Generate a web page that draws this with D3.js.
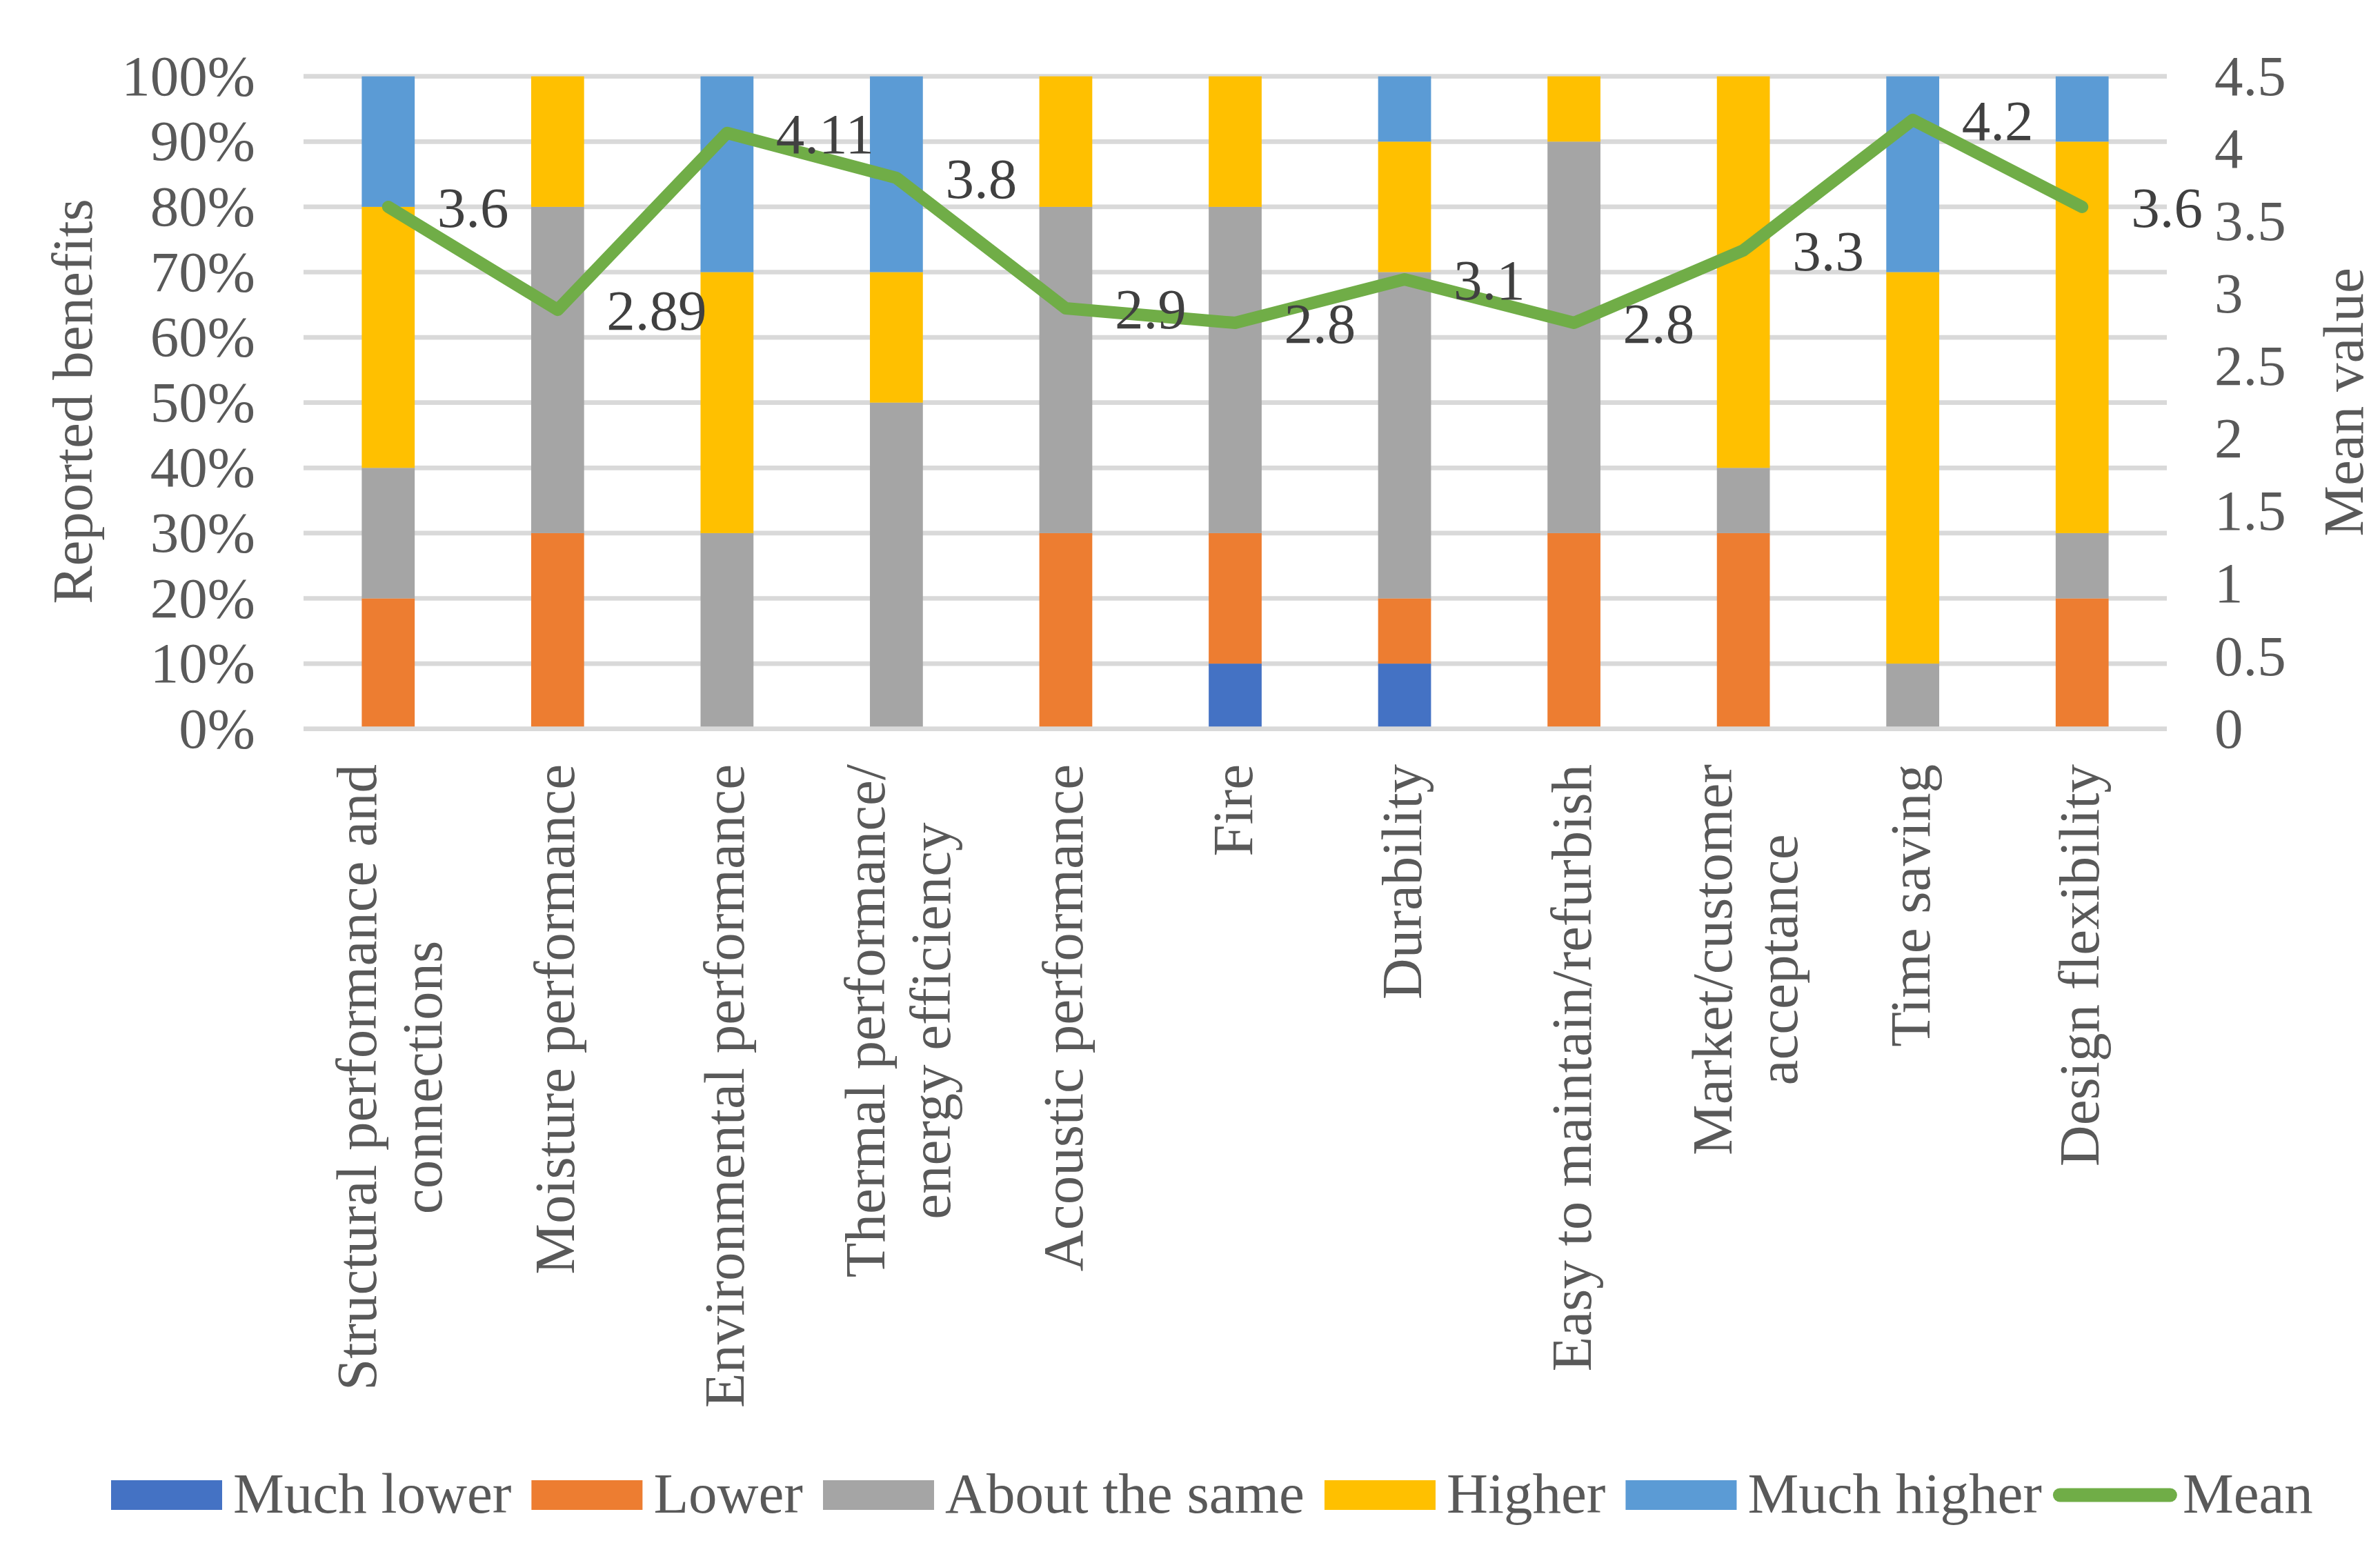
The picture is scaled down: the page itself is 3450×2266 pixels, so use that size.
<!DOCTYPE html>
<html>
<head>
<meta charset="utf-8">
<script src="https://cdn.jsdelivr.net/npm/d3@7/dist/d3.min.js"></script>
<style>
  html, body { margin: 0; padding: 0; background: #ffffff; }
  svg { display: block; }
  text { font-family: "Liberation Serif", "Times New Roman", serif; }
</style>
</head>
<body>
<svg id="chart" width="3450" height="2266"></svg>
<script>
// ---------- data ----------
const categories = [
  "Structural performance and\nconnections",
  "Moisture performance",
  "Environmental performance",
  "Thermal performance/\nenergy efficiency",
  "Acoustic performance",
  "Fire",
  "Durability",
  "Easy to maintain/refurbish",
  "Market/customer\nacceptance",
  "Time saving",
  "Design flexibility"
];
const seriesNames = ["Much lower", "Lower", "About the same", "Higher", "Much higher"];
const muchLower  = [0,  0,  0,  0,  0, 10, 10,  0,  0,  0,  0];
const lower      = [20, 30, 0,  0, 30, 20, 10, 30, 30,  0, 20];
const aboutSame  = [20, 50, 30, 50, 50, 50, 50, 60, 10, 10, 10];
const higher     = [40, 20, 40, 20, 20, 20, 20, 10, 60, 60, 60];
const muchHigher = [20,  0, 30, 30,  0,  0, 10,  0,  0, 30, 10];
const meanValues = [3.6, 2.89, 4.11, 3.8, 2.9, 2.8, 3.1, 2.8, 3.3, 4.2, 3.6];
const leftTicks  = [0, 10, 20, 30, 40, 50, 60, 70, 80, 90, 100];
const rightTicks = [0, 0.5, 1, 1.5, 2, 2.5, 3, 3.5, 4, 4.5];
const seriesColors = ["#4472C4", "#ED7D31", "#A5A5A5", "#FFC000", "#5B9BD5"];
const meanColor = "#70AD47";

// ---------- layout ----------
const W = 3450, H = 2266;
const plot = { left: 440, right: 3141, top: 110.7, bottom: 1056.7 };
const FONT = 83;
const axisColor = "#595959";
const labelColor = "#404040";
const gridColor = "#D9D9D9";

const svg = d3.select("#chart");

const x = d3.scaleBand().domain(d3.range(categories.length)).range([plot.left, plot.right]).padding(0);
const barW = x.bandwidth() * 0.3125;
const yL = d3.scaleLinear().domain([0, 100]).range([plot.bottom, plot.top]);
const yR = d3.scaleLinear().domain([0, 4.5]).range([plot.bottom, plot.top]);

// gridlines
svg.append("g").selectAll("line").data(leftTicks.slice(1)).join("line")
  .attr("x1", plot.left).attr("x2", plot.right)
  .attr("y1", d => yL(d)).attr("y2", d => yL(d))
  .attr("stroke", gridColor).attr("stroke-width", 6.7);

// stacked bars
const seriesData = [muchLower, lower, aboutSame, higher, muchHigher];
const rows = categories.map((c, i) => {
  const o = { idx: i };
  seriesNames.forEach((s, k) => o[s] = seriesData[k][i]);
  return o;
});
const stacked = d3.stack().keys(seriesNames)(rows);
svg.append("g").selectAll("g").data(stacked).join("g")
  .attr("fill", (d, k) => seriesColors[k])
  .selectAll("rect").data(d => d.filter(p => p[1] - p[0] > 0)).join("rect")
  .attr("x", d => x(d.data.idx) + x.bandwidth() / 2 - barW / 2)
  .attr("width", barW)
  .attr("y", d => yL(d[1]))
  .attr("height", d => yL(d[0]) - yL(d[1]));

// base axis line on top
svg.append("line")
  .attr("x1", plot.left).attr("x2", plot.right)
  .attr("y1", yL(0)).attr("y2", yL(0))
  .attr("stroke", gridColor).attr("stroke-width", 6.7);

// left ticks
svg.append("g").selectAll("text").data(leftTicks).join("text")
  .attr("x", 370).attr("y", d => yL(d) + 27)
  .attr("text-anchor", "end")
  .attr("font-size", FONT).attr("fill", axisColor)
  .text(d => d + "%");

// right ticks
svg.append("g").selectAll("text").data(rightTicks).join("text")
  .attr("x", 3210).attr("y", d => yR(d) + 27)
  .attr("text-anchor", "start")
  .attr("font-size", FONT).attr("fill", axisColor)
  .text(d => String(d));

// axis titles
svg.append("text")
  .attr("transform", "translate(133,582) rotate(-90)")
  .attr("text-anchor", "middle")
  .attr("font-size", FONT).attr("fill", axisColor)
  .text("Reported benefits");
svg.append("text")
  .attr("transform", "translate(3425,583) rotate(-90)")
  .attr("text-anchor", "middle")
  .attr("font-size", FONT).attr("fill", axisColor)
  .text("Mean value");

// category labels
const catG = svg.append("g");
categories.forEach((c, i) => {
  const lines = c.split("\n");
  const cx = x(i) + x.bandwidth() / 2;
  const n = lines.length;
  lines.forEach((ln, j) => {
    const off = n === 1 ? 24 : 30 + (j - (n - 1) / 2) * 95;
    catG.append("text")
      .attr("transform", `translate(${cx + off},1108) rotate(-90)`)
      .attr("text-anchor", n === 1 ? "end" : "middle")
      .attr("font-size", FONT).attr("fill", axisColor)
      .attr("class", "cat" + i + "_" + j)
      .text(ln);
  });
  if (n > 1) {
    // align the block end to the axis: center lines relative to the longest
    const nodes = lines.map((ln, j) => catG.select(".cat" + i + "_" + j).node());
    const maxLen = d3.max(nodes, nd => nd.getComputedTextLength());
    nodes.forEach((nd, j) => {
      const off = 30 + (j - (n - 1) / 2) * 95;
      d3.select(nd).attr("transform", `translate(${cx + off},${1108 + maxLen / 2}) rotate(-90)`);
    });
  }
});

// mean line
const line = d3.line()
  .x((d, i) => x(i) + x.bandwidth() / 2)
  .y(d => yR(d));
svg.append("path")
  .datum(meanValues)
  .attr("d", line)
  .attr("fill", "none")
  .attr("stroke", meanColor)
  .attr("stroke-width", 18)
  .attr("stroke-linejoin", "round")
  .attr("stroke-linecap", "round");

// data labels
svg.append("g").selectAll("text").data(meanValues).join("text")
  .attr("x", (d, i) => x(i) + x.bandwidth() / 2 + 71)
  .attr("y", d => yR(d) + 29)
  .attr("font-size", FONT).attr("fill", labelColor)
  .text(d => String(d));

// legend
const legend = svg.append("g");
let lx = 161;
const legendItems = seriesNames.map((s, k) => ({ name: s, color: seriesColors[k], type: "rect" }))
  .concat([{ name: "Mean", color: meanColor, type: "line" }]);
legendItems.forEach((it, k) => {
  if (it.type === "rect") {
    legend.append("rect").attr("x", lx).attr("y", 2146).attr("width", 161).attr("height", 43).attr("fill", it.color);
    const t = legend.append("text").attr("x", lx + 177).attr("y", 2193)
      .attr("font-size", FONT).attr("fill", axisColor).text(it.name);
    const w = t.node().getComputedTextLength();
    lx = lx + 177 + w + (k + 1 < legendItems.length && legendItems[k + 1].type === "line" ? 16 : 29);
  } else {
    legend.append("line").attr("x1", lx + 10).attr("x2", lx + 170).attr("y1", 2167.5).attr("y2", 2167.5)
      .attr("stroke", it.color).attr("stroke-width", 20).attr("stroke-linecap", "round");
    legend.append("text").attr("x", lx + 188).attr("y", 2193)
      .attr("font-size", FONT).attr("fill", axisColor).text(it.name);
  }
});
</script>
</body>
</html>
